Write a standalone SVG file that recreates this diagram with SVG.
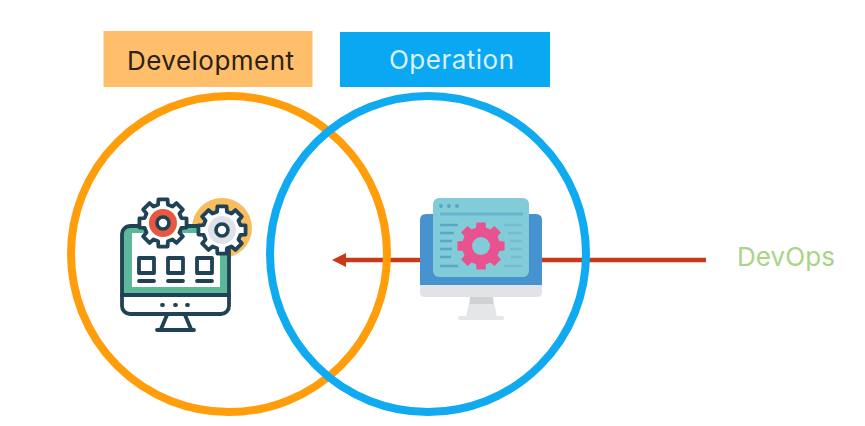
<svg xmlns="http://www.w3.org/2000/svg" xmlns:xlink="http://www.w3.org/1999/xlink" width="865" height="426" viewBox="0 0 865 426">
<style>
.lbl{font-family:"Inter","Liberation Sans",sans-serif;font-size:26px}
.ring{fill:none;stroke-width:8}
.ln{fill:none;stroke:#1f4256;stroke-width:3.8;stroke-linecap:round;stroke-linejoin:round}
.gear{fill:#fff;stroke:#1f4256;stroke-width:3.8;stroke-linejoin:round}
</style>
<defs>
<path id="g8" d="M-4.92-18.35L-4.58-23.56L4.58-23.56L4.92-18.35L9.5-16.45L13.42-19.9L19.9-13.42L16.45-9.5L18.35-4.92L23.56-4.58L23.56 4.58L18.35 4.92L16.45 9.5L19.9 13.42L13.42 19.9L9.5 16.45L4.92 18.35L4.58 23.56L-4.58 23.56L-4.92 18.35L-9.5 16.45L-13.42 19.9L-19.9 13.42L-16.45 9.5L-18.35 4.92L-23.56 4.58L-23.56-4.58L-18.35-4.92L-16.45-9.5L-19.9-13.42L-13.42-19.9L-9.5-16.45Z"/>
</defs>
<rect width="865" height="426" fill="#fff"/>
<g id="connectors">
<line x1="706" y1="260" x2="345" y2="260" stroke="#c8391a" stroke-width="4.5"/>
<path d="M332 260L346 253V267Z" fill="#c8391a"/>
</g>
<g id="development">
<rect x="103.5" y="31" width="209" height="56" fill="#ffbe6a"/>
<text class="lbl" x="127" y="70" fill="#2b2118" textLength="167" lengthAdjust="spacing">Development</text>
<circle class="ring" cx="229" cy="254" r="158" stroke="#ff9d0a"/>
</g>
<g id="operation">
<rect x="340" y="32" width="210" height="55" fill="#0aa7f2"/>
<text class="lbl" x="389" y="69" fill="#d8f1fd" textLength="125" lengthAdjust="spacing">Operation</text>
<circle class="ring" cx="428" cy="254" r="158" stroke="#0faaf0"/>
</g>
<g id="dev-icon">
<circle cx="222" cy="228" r="30" fill="#f8bd5f"/>
<rect x="122" y="226" width="107" height="88" rx="8" fill="#fff"/>
<path d="M122 295V234q0-8 8-8H229V295Z" fill="#5cb898"/>
<rect x="132" y="233" width="88" height="54" fill="#fff"/>
<rect x="122" y="226" width="107" height="88" rx="8" class="ln"/>
<path class="ln" d="M122 295H229"/>
<path class="ln" d="M167 315L161 329M185 315L191 329M157 330H194"/>
<rect x="139" y="258" width="15" height="15" class="ln"/>
<rect x="168" y="258" width="15" height="15" class="ln"/>
<rect x="197" y="258" width="15" height="15" class="ln"/>
<path class="ln" d="M139 281H154M168 281H183M197 281H212"/>
<path class="ln" d="M162 305H163M175 305H176M187 305H188"/>
<use xlink:href="#g8" class="gear" transform="translate(163 223)"/>
<circle cx="163" cy="223" r="14" fill="#e8573f"/>
<circle cx="163" cy="223" r="6" fill="#fff" stroke="#1f4256" stroke-width="3.6"/>
<use xlink:href="#g8" class="gear" transform="translate(222 230)"/>
<circle cx="222" cy="230" r="14" fill="#dfe3e8"/>
<circle cx="222" cy="230" r="6" fill="#fff" stroke="#1f4256" stroke-width="3.6"/>
</g>
<g id="ops-icon">
<path d="M470 297H493L497 317H466Z" fill="#e4e6e8"/>
<rect x="470" y="297" width="23" height="7" fill="#cfd1d4"/>
<rect x="458" y="316" width="46" height="4" rx="2" fill="#e4e6e8"/>
<path d="M420 285H542V292q0 5-5 5H425q-5 0-5-5Z" fill="#e1e3e6"/>
<path d="M426 214H536q6 0 6 6V285H420V220q0-6 6-6Z" fill="#4793cf"/>
<rect x="433" y="198" width="96" height="79" rx="6" fill="#82cbd9"/>
<path d="M440 214H523" stroke="#68b5cc" stroke-width="3" fill="none"/>
<g fill="#5aa6c4"><circle cx="441" cy="206" r="2"/><circle cx="449" cy="206" r="2"/><circle cx="457" cy="206" r="2"/></g>
<path d="M440 225H458M440 233H454M440 241H452M440 249H452M440 257H451M440 266H458" stroke="#5aa6c4" stroke-width="2.4" fill="none"/>
<path d="M504 225H522M508 233H522M510 241H522M510 249H522M511 257H522M504 266H522" stroke="#74bdd0" stroke-width="2.4" fill="none"/>
<use xlink:href="#g8" fill="#e8528f" transform="translate(481 246)"/>
<circle cx="481" cy="246" r="9" fill="#82cbd9"/>
</g>
<g id="devops">
<text class="lbl" x="737" y="266" fill="#a9d488" textLength="98" lengthAdjust="spacing">DevOps</text>
</g>
</svg>
